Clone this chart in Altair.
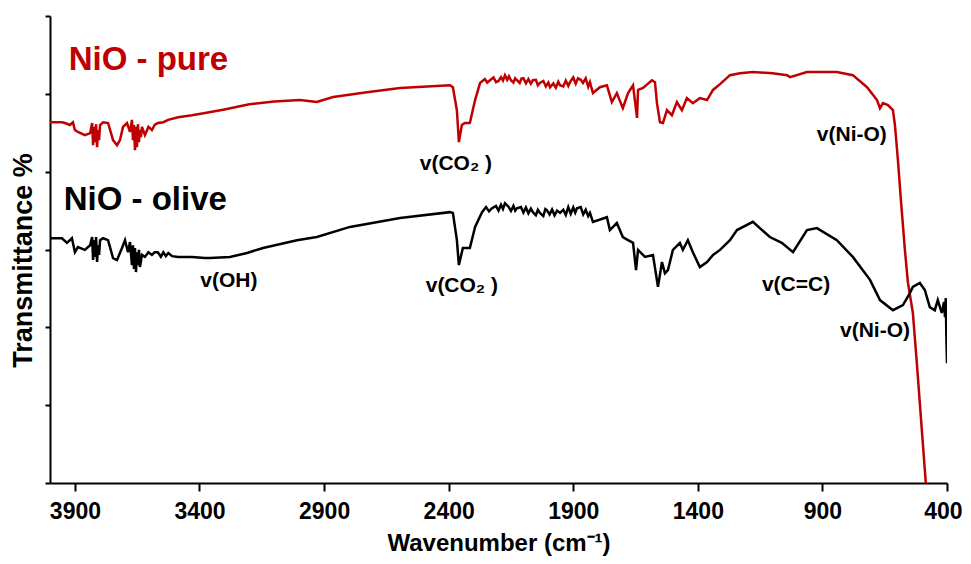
import altair as alt
import pandas as pd

# ---------------- data ----------------
red_w = [4000, 3992, 3952, 3940, 3920, 3908, 3900, 3888, 3860, 3839,
         3831, 3827, 3823, 3819, 3815, 3811, 3807, 3803, 3799,
         3787, 3767, 3747, 3731, 3719, 3707, 3691,
         3679, 3671, 3667, 3663, 3659, 3655, 3651, 3647, 3643, 3639, 3635, 3631,
         3619, 3605, 3591, 3580, 3567, 3545, 3526, 3486, 3430, 3378,
         3300, 3200, 3100, 2997, 2929, 2864, 2728, 2595, 2395, 2383,
         2367, 2359, 2347, 2335, 2315, 2294, 2274, 2255, 2245, 2234,
         2220, 2210, 2200, 2190, 2182, 2174, 2165, 2158, 2150, 2140,
         2133, 2126, 2115, 2108, 2100, 2090, 2080, 2070, 2062, 2050,
         2042, 2034, 2020, 2010, 2000, 1993, 1980, 1970, 1960, 1953,
         1940, 1930, 1920, 1913, 1900, 1890, 1881, 1870, 1861, 1850,
         1840, 1833, 1821, 1793, 1765, 1745, 1725, 1701, 1680, 1660,
         1644, 1640, 1620, 1584, 1572, 1564, 1552, 1540, 1524, 1504,
         1484, 1464, 1444, 1420, 1392, 1363, 1339, 1311, 1271, 1231,
         1179, 1100, 1042, 1030, 962, 842, 778, 721, 681, 669,
         657, 637, 617, 609, 597, 585, 569, 557, 537, 521, 501, 485]
red_t = [92.7, 92.7, 92.7, 92.5, 92.0, 92.7, 90.7, 90.2, 89.4, 89.9,
         92.5, 86.8, 91.5, 87.6, 92.2, 86.3, 90.7, 88.1, 92.0,
         92.7, 92.5, 88.1, 86.8, 88.1, 91.5, 92.5,
         90.2, 93.3, 88.1, 92.0, 85.5, 91.5, 86.3, 92.2, 87.6, 90.7, 88.9, 91.5,
         89.4, 91.5, 90.7, 92.0, 92.5, 92.7, 93.3, 94.0, 94.5, 95.1,
         96.0, 97.3, 98.0, 98.4, 97.9, 99.2, 100.4, 101.5, 102.2, 101.7,
         95.8, 87.6, 92.0, 92.5, 92.5, 98.4, 102.8, 103.8, 102.9, 103.5,
         104.2, 103.0, 103.3, 104.3, 103.4, 104.8, 103.6, 104.5, 103.5, 102.9,
         104.0, 103.5, 102.8, 103.9, 104.0, 102.7, 103.8, 102.6, 103.5, 103.6,
         102.2, 102.8, 103.3, 101.9, 102.9, 101.7, 102.7, 101.6, 103.1, 102.2,
         101.9, 103.4, 102.0, 103.0, 104.2, 102.6, 104.0, 103.6, 102.8, 104.0,
         101.8, 103.0, 100.2, 101.7, 102.2, 97.9, 100.2, 96.3, 100.2, 102.2,
         93.8, 101.0, 101.5, 103.5, 103.0, 97.6, 92.7, 92.5, 95.8, 94.5,
         97.9, 95.8, 98.9, 97.6, 98.9, 98.4, 101.0, 102.5, 104.8, 105.3,
         105.6, 105.3, 104.8, 104.3, 105.6, 105.6, 104.8, 101.7, 98.4, 96.3,
         97.6, 97.1, 95.8, 92.0, 83.0, 72.7, 59.9, 51.6, 43.7, 30.8, 13.6, 0.0]

black_w = [4000, 3992, 3952, 3932, 3912, 3900, 3888, 3860, 3839,
           3831, 3827, 3823, 3819, 3815, 3811, 3807, 3803, 3799,
           3787, 3767, 3747, 3731, 3711, 3699, 3687,
           3679, 3671, 3667, 3663, 3659, 3655, 3651, 3647, 3643, 3639, 3631,
           3619, 3605, 3591, 3580, 3567, 3555, 3545, 3535, 3525, 3510,
           3486, 3430, 3378, 3358, 3278, 3209, 3145, 3009, 2929, 2796,
           2595, 2395, 2383, 2367, 2359, 2343, 2315, 2294, 2266, 2250,
           2238, 2226, 2210, 2200, 2190, 2182, 2174, 2160, 2150, 2140,
           2133, 2126, 2110, 2100, 2090, 2080, 2070, 2062, 2050, 2042,
           2034, 2020, 2012, 2006, 1995, 1985, 1975, 1965, 1953, 1940,
           1930, 1920, 1910, 1900, 1892, 1885, 1870, 1860, 1850, 1840,
           1833, 1821, 1765, 1753, 1725, 1701, 1680, 1660, 1648, 1640,
           1612, 1580, 1560, 1544, 1532, 1520, 1500, 1472, 1460, 1440,
           1420, 1392, 1363, 1339, 1311, 1271, 1243, 1179, 1111, 1063,
           1018, 962, 922, 842, 778, 709, 669, 617, 577, 549,
           537, 509, 489, 469, 449, 437, 421, 412, 408, 405, 402, 400]
black_t = [62.9, 62.9, 62.9, 61.7, 62.9, 59.3, 60.6, 59.9, 61.1,
           63.2, 57.3, 62.4, 58.1, 63.2, 56.8, 61.1, 58.6, 62.4,
           62.9, 62.4, 57.8, 57.3, 60.4, 62.4, 59.3,
           61.9, 56.0, 61.1, 55.0, 60.4, 54.2, 59.3, 56.0, 59.9, 55.5, 58.6,
           58.1, 59.3, 58.6, 59.3, 59.3, 58.1, 59.3, 58.3, 59.1, 58.3,
           58.1, 58.1, 57.8, 57.8, 58.1, 59.1, 60.4, 62.4, 63.2, 65.8,
           68.1, 69.6, 69.4, 62.4, 56.0, 60.4, 60.4, 65.8, 69.6, 70.9,
           69.8, 70.6, 71.2, 70.0, 71.5, 70.4, 71.9, 71.0, 69.9, 71.2,
           70.0, 70.6, 70.9, 69.5, 70.8, 69.3, 70.5, 69.6, 68.8, 70.2,
           69.4, 68.6, 70.4, 70.1, 69.0, 70.3, 68.8, 70.0, 69.4, 70.2,
           68.9, 70.9, 69.2, 70.8, 69.5, 70.6, 70.9, 69.0, 70.2, 68.6,
           69.4, 67.1, 68.3, 65.0, 66.8, 63.2, 62.4, 61.7, 54.7, 59.9,
           58.1, 58.6, 50.4, 56.8, 53.9, 54.7, 59.9, 61.7, 59.9, 62.4,
           59.3, 55.5, 56.8, 58.6, 59.9, 62.4, 65.0, 67.1, 63.2, 61.7,
           59.3, 65.0, 65.5, 62.4, 58.1, 52.2, 47.0, 44.4, 45.7, 48.8,
           50.4, 51.4, 49.6, 45.2, 44.4, 47.0, 43.7, 46.5, 42.6, 47.5, 36.0, 30.8]

x_ticks = [3900, 3400, 2900, 2400, 1900, 1400, 900, 400]
y_ticks = [0, 20, 40, 60, 80, 100, 120]

title_text = ["NiO - pure", "NiO - olive"]
title_w = [3925, 3945]
title_t = [106.1, 70.1]
title_color = ["#C00000", "#000000"]

band_text = ["v(OH)", "v(CO\u2082 )", "v(CO\u2082 )", "v(Ni-O)", "v(C=C)", "v(Ni-O)"]
band_w = [3282, 2371, 2347, 782, 1006, 689]
band_t = [50.4, 80.4, 49.1, 87.9, 49.3, 37.5]

assert len(red_w) == len(red_t)
assert len(black_w) == len(black_t)

spectra = pd.concat([
    pd.DataFrame({"w": red_w, "t": red_t, "series": "pure"}),
    pd.DataFrame({"w": black_w, "t": black_t, "series": "olive"}),
])
titles = pd.DataFrame({"text": title_text, "w": title_w, "t": title_t, "color": title_color})
bands = pd.DataFrame({"text": band_text, "w": band_w, "t": band_t})

FONT = "Liberation Sans"

xscale = alt.Scale(domain=[400, 4000], reverse=True, nice=False, zero=False)
yscale = alt.Scale(domain=[0, 120], nice=False, zero=False)

xaxis = alt.Axis(values=x_ticks, format="d", title="Wavenumber (cm\u207b\u00b9)", grid=False,
                 labelFlush=True, labelFlushOffset=15, labelOverlap=False, labelBound=False,
                 labelFont=FONT, labelFontSize=23, labelFontWeight="bold", labelColor="black",
                 labelPadding=9, tickSize=8, tickWidth=2, tickColor="black",
                 domainColor="black", domainWidth=2,
                 titleFont=FONT, titleFontSize=24, titleFontWeight="bold", titleColor="black",
                 titleY=67, titleBaseline="alphabetic")
yaxis = alt.Axis(values=y_ticks, labels=False, title="Transmittance %", grid=False,
                 tickSize=5, tickWidth=2, tickColor="black",
                 domainColor="black", domainWidth=2,
                 titleFont=FONT, titleFontSize=27, titleFontWeight="bold", titleColor="black",
                 titleX=-19, titleY=244, titleBaseline="alphabetic", titleAngle=-90)

lines = alt.Chart(spectra).mark_line(strokeWidth=2.5, clip=True).encode(
    x=alt.X("w:Q", scale=xscale, axis=xaxis),
    y=alt.Y("t:Q", scale=yscale, axis=yaxis),
    color=alt.Color("series:N", scale=alt.Scale(domain=["pure", "olive"], range=["#C00000", "#000000"]), legend=None),
    detail="series:N",
)

title_marks = alt.Chart(titles).mark_text(font=FONT, fontSize=33, fontWeight="bold",
                                          align="left", baseline="alphabetic").encode(
    x=alt.X("w:Q", scale=xscale),
    y=alt.Y("t:Q", scale=yscale),
    text="text:N",
    color=alt.Color("color:N", scale=None),
)

band_marks = alt.Chart(bands).mark_text(font=FONT, fontSize=21, fontWeight="bold",
                                        align="center", baseline="alphabetic", color="black").encode(
    x=alt.X("w:Q", scale=xscale),
    y=alt.Y("t:Q", scale=yscale),
    text="text:N",
)

chart = alt.layer(lines, title_marks, band_marks).properties(
    width=897, height=467,
    autosize=alt.AutoSizeParams(type="none"),
    padding={"left": 42, "top": 8, "right": 16, "bottom": 73},
).configure_view(stroke=None)

chart.save("out.html", embed_options={"renderer": "svg", "actions": False})
